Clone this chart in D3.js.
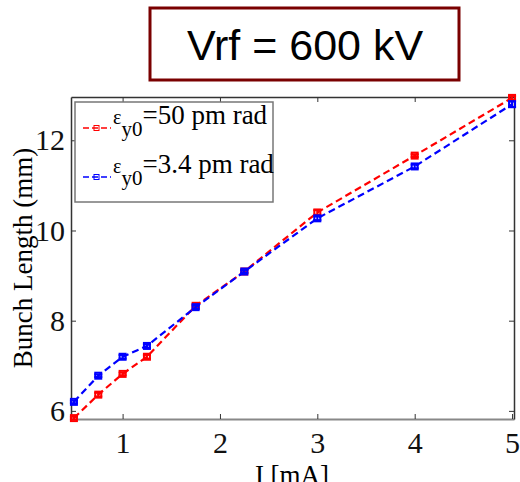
<!DOCTYPE html>
<html>
<head>
<script src="https://d3js.org/d3.v7.min.js"></script>
<style>
body { margin: 0; background: #fff; }
</style>
</head>
<body>
<div id="chart"></div>
<script>
// data
var current = [0.5, 0.75, 1, 1.25, 1.75, 2.25, 3, 4, 5];
var len50 = [5.84, 6.36, 6.82, 7.2, 8.33, 9.09, 10.4, 11.66, 12.94];
var len34 = [6.2, 6.78, 7.2, 7.44, 8.3, 9.09, 10.27, 11.42, 12.8];
var err50 = [0.03, 0.04, 0.03, 0.04, 0.03, 0.03, 0.05, 0.03, 0.04];
var err34 = [0.03, 0.03, 0.04, 0.04, 0.04, 0.03, 0.04, 0.04, 0.06];
var xTicks = [1, 2, 3, 4, 5];
var yTicks = [6, 8, 10, 12];

var width = 520, height = 482;
var plotL = 71, plotR = 514, plotT = 97, plotB = 419;

var svg = d3.select("#chart").append("svg")
  .attr("width", width).attr("height", height);

// title box
svg.append("rect")
  .attr("x", 150).attr("y", 8).attr("width", 309).attr("height", 72)
  .attr("fill", "white").attr("stroke", "#7a0000").attr("stroke-width", 3);
svg.append("text")
  .attr("x", 305).attr("y", 60)
  .attr("text-anchor", "middle")
  .style("font-family", "Liberation Sans, Arial, sans-serif")
  .style("font-size", "43px")
  .text("Vrf = 600 kV");

var x = d3.scaleLinear().domain([0.47, 5.02]).range([plotL, plotR]);
var y = d3.scaleLinear().domain([5.82, 12.96]).range([plotB, plotT]);

var serif = "Liberation Serif, Times New Roman, serif";
var fmt = d3.format("d");

// axes (box on, ticks inside like matlab)
var gx = svg.append("g").attr("transform", "translate(0," + plotB + ")")
  .call(d3.axisBottom(x).tickValues(xTicks).tickFormat(fmt).tickSizeInner(-5).tickSizeOuter(0).tickPadding(13));
var gxt = svg.append("g").attr("transform", "translate(0," + plotT + ")")
  .call(d3.axisTop(x).tickValues(xTicks).tickSizeInner(-5).tickSizeOuter(0).tickFormat(""));
var gy = svg.append("g").attr("transform", "translate(" + plotL + ",0)")
  .call(d3.axisLeft(y).tickValues(yTicks).tickFormat(fmt).tickSizeInner(-5).tickSizeOuter(0).tickPadding(6));
var gyr = svg.append("g").attr("transform", "translate(" + plotR + ",0)")
  .call(d3.axisRight(y).tickValues(yTicks).tickSizeInner(-5).tickSizeOuter(0).tickFormat(""));

[gx, gxt, gy, gyr].forEach(function(g) {
  g.select(".domain").attr("stroke", "#333").attr("stroke-width", 1.5);
  g.selectAll(".tick line").attr("stroke", "#333");
  g.selectAll("text").style("font-family", serif).style("font-size", "30px").attr("fill", "#111");
});
gx.select(".domain").attr("stroke", "#888").attr("stroke-width", 2);

// axis labels
svg.append("text")
  .attr("transform", "translate(32," + ((plotT + plotB) / 2) + ") rotate(-90)")
  .attr("text-anchor", "middle")
  .style("font-family", serif).style("font-size", "27px")
  .text("Bunch Length (mm)");
svg.append("text")
  .attr("x", 292).attr("y", 484)
  .attr("text-anchor", "middle")
  .style("font-family", serif).style("font-size", "27px")
  .text("I [mA]");

var series = [
  { vals: len50, errs: err50, color: "#ff0000" },
  { vals: len34, errs: err34, color: "#0000ff" }
];

var line = d3.line()
  .x(function(d) { return x(d[0]); })
  .y(function(d) { return y(d[1]); });

series.forEach(function(s) {
  var pts = current.map(function(c, i) { return [c, s.vals[i], s.errs[i]]; });
  svg.append("path")
    .attr("d", line(pts))
    .attr("fill", "none")
    .attr("stroke", s.color)
    .attr("stroke-width", 2.2)
    .attr("stroke-dasharray", "7,4");

  var g = svg.append("g").attr("stroke", s.color).attr("stroke-width", 2);
  pts.forEach(function(d) {
    var cx = x(d[0]), y1 = y(d[1] - d[2]), y2 = y(d[1] + d[2]);
    g.append("line").attr("x1", cx).attr("x2", cx).attr("y1", y1).attr("y2", y2);
    g.append("line").attr("x1", cx - 4).attr("x2", cx + 4).attr("y1", y1).attr("y2", y1);
    g.append("line").attr("x1", cx - 4).attr("x2", cx + 4).attr("y1", y2).attr("y2", y2);
    g.append("rect")
      .attr("x", cx - 3).attr("y", y(d[1]) - 3)
      .attr("width", 6).attr("height", 6)
      .attr("fill", "none");
  });
});

// legend
var lg = svg.append("g");
lg.append("rect")
  .attr("x", 75).attr("y", 102).attr("width", 198).attr("height", 100)
  .attr("fill", "white").attr("stroke", "#777").attr("stroke-width", 1.5);

var legendNames = ["=50 pm rad", "=3.4 pm rad"];
var legendY = [128, 177];
series.forEach(function(s, i) {
  var ly = legendY[i];
  lg.append("line")
    .attr("x1", 83).attr("x2", 111).attr("y1", ly).attr("y2", ly)
    .attr("stroke", s.color).attr("stroke-width", 1.5)
    .attr("stroke-dasharray", "6,3");
  lg.append("rect")
    .attr("x", 94).attr("y", ly - 2.5).attr("width", 5).attr("height", 5)
    .attr("fill", "none").attr("stroke", s.color).attr("stroke-width", 1);
  var t = lg.append("text")
    .attr("x", 113).attr("y", ly - 4)
    .style("font-family", serif).style("font-size", "27px");
  t.append("tspan").style("font-size", "20px").text("\u03b5");
  t.append("tspan").attr("dy", 12).style("font-size", "21px").text("y0");
  t.append("tspan").attr("dy", -12).text(legendNames[i]);
});
</script>
</body>
</html>
